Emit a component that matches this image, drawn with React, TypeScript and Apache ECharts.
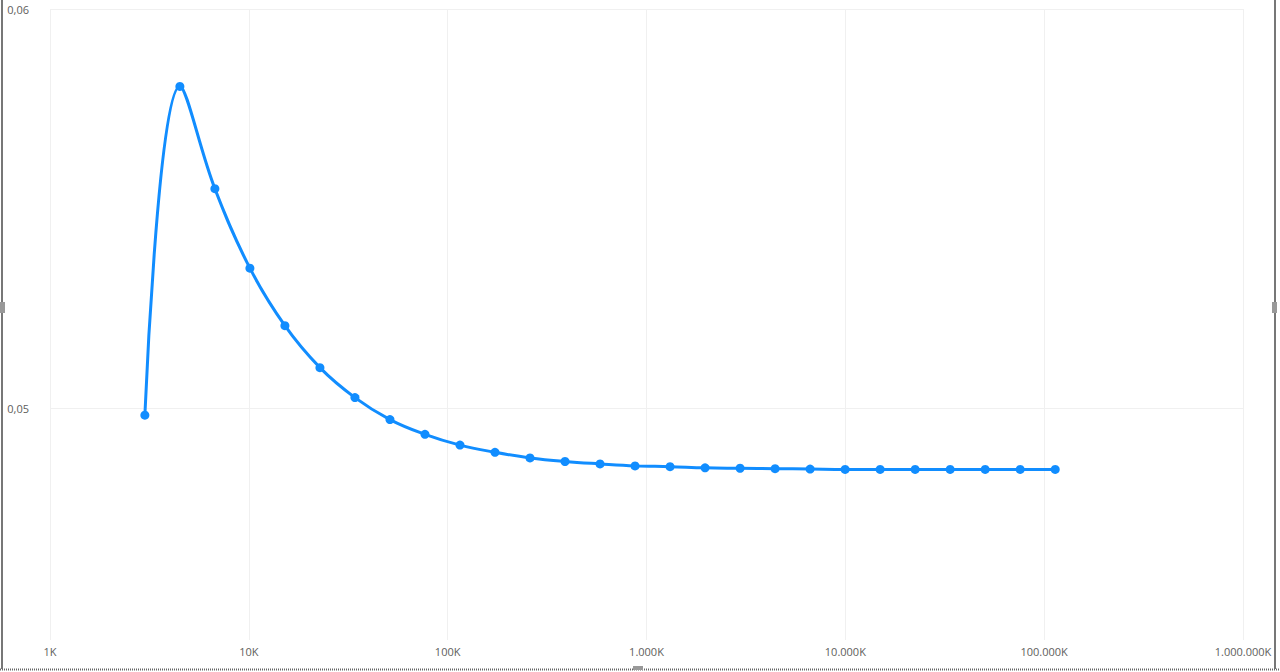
import React, { useEffect, useRef } from "react";
import * as echarts from "echarts";

// X values (raw units; axis labels shown in K)
const xValues = [
  3000, 4500, 6750, 10125, 15187.5, 22781, 34172, 51258, 76887, 115330,
  172995, 259493, 389240, 583859, 875789, 1313684, 1970526, 2955789,
  4433684, 6650526, 9975789, 14963684, 22445526, 33668289, 50502433,
  75753650, 113630475,
];
const yValues = [
  0.04983, 0.05806, 0.0555, 0.05351, 0.05207, 0.05102, 0.05027, 0.04972,
  0.04935, 0.04908, 0.0489, 0.04876, 0.04867, 0.04861, 0.04856, 0.04854,
  0.04851, 0.0485, 0.04849, 0.04848, 0.04847, 0.04847, 0.04847, 0.04847,
  0.04847, 0.04847, 0.04847,
];
const yTickValues = [0.05, 0.06];
const xMin = 1000;
const xMax = 1000000000;
const yMin = 0.0442;
const yMax = 0.06;

function formatK(v: number): string {
  const k = Math.round(v / 1000);
  return String(k).replace(/\B(?=(\d{3})+(?!\d))/g, ".") + "K";
}

export default function App() {
  const ref = useRef<HTMLDivElement>(null);
  useEffect(() => {
    document.body.style.margin = "0";
    const chart = echarts.init(ref.current!, null, { renderer: "svg" });
    const font = "'Open Sans', 'Segoe UI', sans-serif";
    chart.setOption({
      animation: false,
      backgroundColor: "#ffffff",
      grid: { left: 50, right: 37, top: 9, bottom: 32, containLabel: false },
      xAxis: {
        type: "log",
        logBase: 10,
        min: xMin,
        max: xMax,
        axisLine: { show: false },
        axisTick: { show: false },
        splitLine: { show: true, lineStyle: { color: "#f0f0f0", width: 1 } },
        axisLabel: {
          margin: 6,
          color: "#605E5C",
          fontSize: 11,
          fontFamily: font,
          showMinLabel: true,
          showMaxLabel: true,
          formatter: (v: number) => formatK(v),
        },
      },
      yAxis: {
        type: "value",
        min: yMin,
        max: yMax,
        axisLine: { show: false },
        axisTick: { show: false, customValues: yTickValues },
        splitLine: { show: true, lineStyle: { color: "#f0f0f0", width: 1 } },
        axisLabel: {
          customValues: yTickValues,
          margin: 21,
          color: "#605E5C",
          fontSize: 11,
          fontFamily: font,
          formatter: (v: number) => v.toFixed(2).replace(".", ","),
        },
      },
      series: [
        {
          type: "line",
          data: xValues.map((x, i) => [x, yValues[i]]),
          smooth: 0.4,
          symbol: "circle",
          symbolSize: 9,
          showSymbol: true,
          lineStyle: { color: "#118DFF", width: 3 },
          itemStyle: { color: "#118DFF" },
        },
      ],
      graphic: [
        { type: "rect", shape: { x: 1, y: 0, width: 2, height: 669 }, style: { fill: "#777777" }, silent: true },
        { type: "rect", shape: { x: 1274, y: 0, width: 2, height: 669 }, style: { fill: "#777777" }, silent: true },
        { type: "line", shape: { x1: 0, y1: 669.5, x2: 1280, y2: 669.5 }, style: { stroke: "#666666", lineWidth: 2, lineDash: [1, 1] }, silent: true },
        { type: "rect", shape: { x: 0, y: 302, width: 5, height: 11 }, style: { fill: "#999999" }, silent: true },
        { type: "rect", shape: { x: 1272, y: 302, width: 5, height: 11 }, style: { fill: "#999999" }, silent: true },
        { type: "rect", shape: { x: 633, y: 666, width: 10, height: 4 }, style: { fill: "#999999" }, silent: true },
      ],
    });
    return () => chart.dispose();
  }, []);
  return (
    <div
      ref={ref}
      style={{ position: "absolute", left: 0, top: 0, width: 1280, height: 672 }}
    />
  );
}
